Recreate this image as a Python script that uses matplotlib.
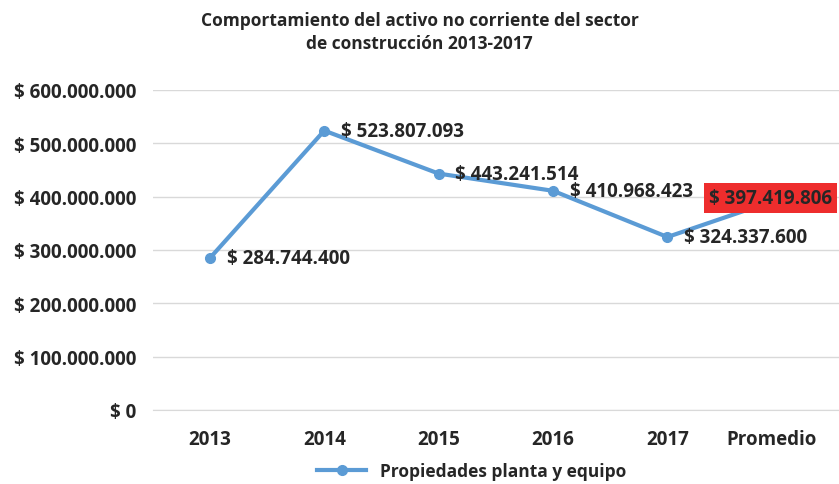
import matplotlib
matplotlib.use("Agg")
import matplotlib.pyplot as plt
import matplotlib.transforms as mtransforms
from matplotlib.ticker import FuncFormatter

plt.rcParams["font.family"] = ["Open Sans", "DejaVu Sans"]

categories = ["2013", "2014", "2015", "2016", "2017", "Promedio"]
values = [284744400, 523807093, 443241514, 410968423, 324337600, 397419806]
series_name = "Propiedades planta y equipo"
title = "Comportamiento del activo no corriente del sector\nde construcción 2013-2017"

def money(v):
    return "$ " + f"{v:,.0f}".replace(",", ".")

blue = "#5B9BD5"
dark = "#262626"

fig = plt.figure(figsize=(8.39, 4.85), dpi=100)
ax = fig.add_axes([0.182, 0.1526, 0.818, 0.6598])
x = list(range(len(categories)))
ax.plot(x, values, color=blue, lw=3, marker="o", ms=7, label=series_name, zorder=3)

for i, v in enumerate(values[:-1]):
    ax.annotate(money(v), (i, v), xytext=(12, 0), textcoords="offset points",
                ha="left", va="center", fontsize=13.5, fontweight="bold", color=dark)
ax.annotate(money(values[-1]), (x[-1], values[-1]), xytext=(-8, 0), textcoords="offset points",
            ha="center", va="center", fontsize=13.5, fontweight="bold", color=dark, zorder=5,
            bbox=dict(boxstyle="square,pad=0.25", fc="#EE2D2D", ec="none"))

ax.set_ylim(0, 600000000)
ax.set_xlim(-0.5, 5.5)
ax.set_yticks(range(0, 600000001, 100000000))
ax.yaxis.set_major_formatter(FuncFormatter(lambda v, p: money(v)))
ax.set_xticks(x)
ax.set_xticklabels(categories)
ax.grid(axis="y", color="#D9D9D9", lw=1)
ax.set_axisbelow(True)
for s in ["top", "right", "left"]:
    ax.spines[s].set_visible(False)
ax.spines["bottom"].set_color("#D9D9D9")
ax.tick_params(axis="both", length=0, labelsize=13.5, colors=dark)
ax.tick_params(axis="x", pad=14)
ax.tick_params(axis="y", pad=12)
for t in ax.get_xticklabels() + ax.get_yticklabels():
    t.set_fontweight("bold")
last = ax.get_xticklabels()[-1]
last.set_transform(last.get_transform() + mtransforms.ScaledTranslation(-0.1, 0, fig.dpi_scale_trans))

fig.suptitle(title, x=0.5, y=0.975, fontsize=12.5, fontweight="bold", color=dark, linespacing=1.35)
ax.legend(loc="upper center", bbox_to_anchor=(0.465, -0.115), frameon=False,
          prop={"size": 12.5, "weight": "bold"}, handlelength=2.8, labelcolor=dark)

fig.savefig("out.png", dpi=100)
